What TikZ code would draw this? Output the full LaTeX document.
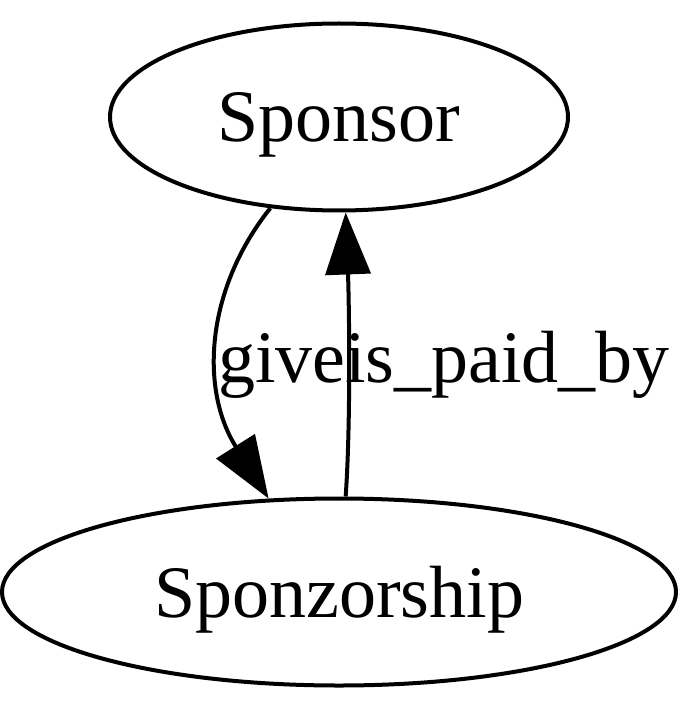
\documentclass[tikz,border=0pt]{standalone}
\usepackage{fontspec}
\setmainfont{Liberation Serif}
\usetikzlibrary{shapes.geometric,arrows.meta}
\begin{document}
\begin{tikzpicture}[x=1pt,y=-1pt,
  ent/.style={ellipse,draw=black,line width=4pt,inner sep=0pt,text depth=0pt,font=\fontsize{74}{80}\selectfont},
  rel/.style={line width=4pt,-{Triangle[length=62pt,width=45pt]}},
  lbl/.style={inner sep=0pt,font=\fontsize{74}{80}\selectfont}]
\useasboundingbox (0,0) rectangle (700,711);
\node[ent,minimum width=458pt,minimum height=187pt] (sp) at (339,117) {Sponsor};
\node[ent,minimum width=674pt,minimum height=187pt] (sz) at (339,592) {Sponzorship};
\draw[rel] (sp.233) .. controls (205,290) and (200,390) .. (sz.127);
\draw[rel] (sz.86) .. controls (351,420) and (349,300) .. (sp.274);
\node[lbl,anchor=base west] (lg) at (218,382) {give};
\node[lbl,anchor=base west] (lp) at (345,382) {is\_paid\_by};
\end{tikzpicture}
\end{document}
